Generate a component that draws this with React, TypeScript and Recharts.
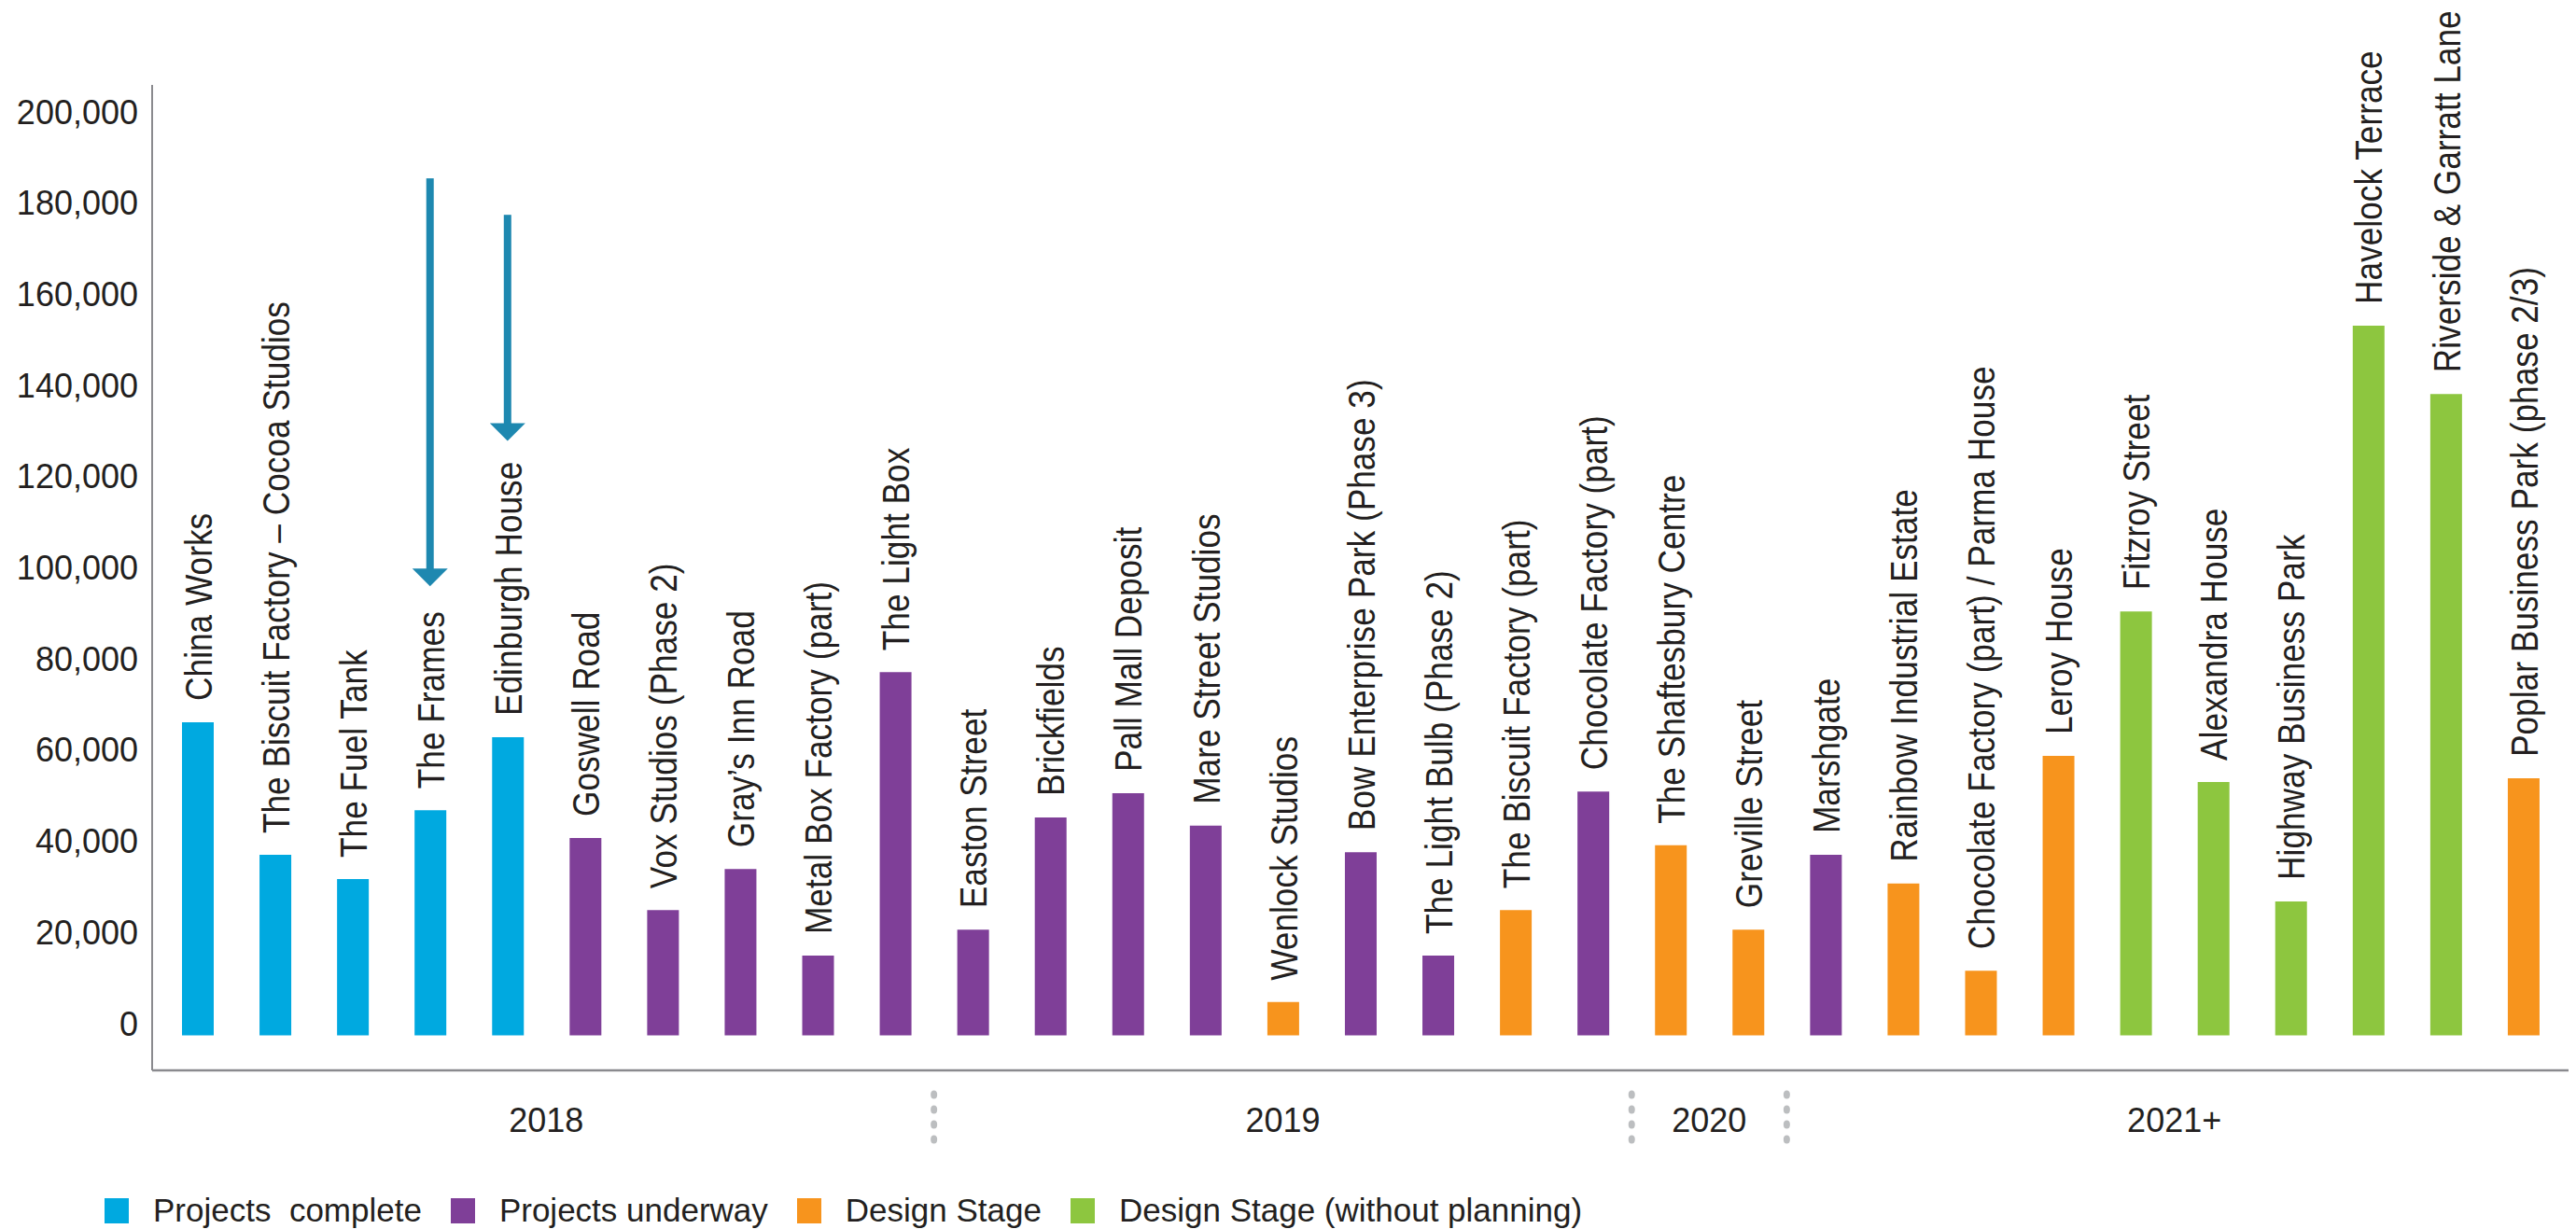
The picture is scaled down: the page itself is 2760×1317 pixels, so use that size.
import React from 'react';
import { BarChart, Bar, XAxis, YAxis, Cell, LabelList, Legend, ReferenceLine } from 'recharts';

const projects = [
  'China Works',
  'The Biscuit Factory – Cocoa Studios',
  'The Fuel Tank',
  'The Frames',
  'Edinburgh House',
  'Goswell Road',
  'Vox Studios (Phase 2)',
  'Gray’s Inn Road',
  'Metal Box Factory (part)',
  'The Light Box',
  'Easton Street',
  'Brickfields',
  'Pall Mall Deposit',
  'Mare Street Studios',
  'Wenlock Studios',
  'Bow Enterprise Park (Phase 3)',
  'The Light Bulb (Phase 2)',
  'The Biscuit Factory (part)',
  'Chocolate Factory (part)',
  'The Shaftesbury Centre',
  'Greville Street',
  'Marshgate',
  'Rainbow Industrial Estate',
  'Chocolate Factory (part) / Parma House',
  'Leroy House',
  'Fitzroy Street',
  'Alexandra House',
  'Highway Business Park',
  'Havelock Terrace',
  'Riverside & Garratt Lane',
  'Poplar Business Park (phase 2/3)',
];

const areas = [
  68700, 39600, 34300, 49400, 65400, 43300, 27500, 36500, 17500, 79700,
  23200, 47800, 53100, 46000, 7300, 40200, 17500, 27500, 53500, 41700,
  23200, 39600, 33300, 14200, 61300, 93000, 55600, 29400, 155700, 140700,
  56400,
];

// 0 = complete, 1 = underway, 2 = design stage, 3 = design stage (without planning)
const stages = [
  0, 0, 0, 0, 0, 1, 1, 1, 1, 1,
  1, 1, 1, 1, 2, 1, 1, 2, 1, 2,
  2, 1, 2, 2, 2, 3, 3, 3, 3, 3,
  2,
];

const stageNames = ['Projects  complete', 'Projects underway', 'Design Stage', 'Design Stage (without planning)'];
const stageColors = ['#00A9E0', '#7F3F98', '#F7941D', '#8DC63F'];

const years = ['2018', '2019', '2020', '2021+'];
const yearCounts = [10, 9, 2, 10];

const yTicks = [0, 20000, 40000, 60000, 80000, 100000, 120000, 140000, 160000, 180000, 200000];

const arrowProjects = ['The Frames', 'Edinburgh House'];
const arrowFrom = [188000, 180000];
const arrowTo = [98500, 130400];

const data = projects.map((name, i) => ({ name, area: areas[i], stage: stages[i] }));

const FONT = '"Liberation Sans", Arial, Helvetica, sans-serif';
const TEXT = '#231F20';
const AXIS = '#8A8A8E';
const ARROW = '#1E88B0';

const tickXs: number[] = [];

function YearTick(props: any) {
  const { x, y, index } = props;
  tickXs[index] = x;
  let acc = 0;
  let g = -1;
  for (let k = 0; k < yearCounts.length; k++) {
    acc += yearCounts[k];
    if (index === acc - 1) { g = k; break; }
  }
  if (g < 0) return <g />;
  const step = index > 0 ? (x - tickXs[0]) / index : 0;
  const cx = x - ((yearCounts[g] - 1) / 2) * step;
  const sepX = x + step / 2;
  const dots = [0, 1, 2, 3];
  return (
    <g>
      <text x={cx} y={y + 66} textAnchor="middle" fontSize={36} fontFamily={FONT} fill={TEXT}>
        {years[g]}
      </text>
      {g < years.length - 1 &&
        dots.map((d) => (
          <ellipse key={d} cx={sepX} cy={y + 26 + d * 16} rx={3.5} ry={4.5} fill="#BCBEC0" />
        ))}
    </g>
  );
}

function ValueTick(props: any) {
  const { x, y, payload } = props;
  return (
    <text x={x} y={y} textAnchor="end" fontSize={36} fontFamily={FONT} fill={TEXT}>
      {Number(payload.value).toLocaleString('en-US')}
    </text>
  );
}

function NameLabel(props: any) {
  const { x, y, width, value } = props;
  const fs = 41;
  const cx = Number(x) + Number(width) / 2;
  const ox = cx + (fs * 0.716) / 2;
  const oy = Number(y) - 23;
  return (
    <text
      transform={`translate(${ox},${oy}) rotate(-90) scale(0.86,1)`}
      x={0}
      y={0}
      fontSize={fs}
      fontFamily={FONT}
      fill={TEXT}
    >
      {value}
    </text>
  );
}

function ArrowShape(props: any) {
  const { x1, y1, x2, y2 } = props;
  const head = 19;
  const hw = 19;
  const sw = 8;
  return (
    <g>
      <rect x={x1 - sw / 2} y={y1} width={sw} height={y2 - y1 - head + 1} fill={ARROW} />
      <polygon points={`${x2 - hw},${y2 - head} ${x2 + hw},${y2 - head} ${x2},${y2}`} fill={ARROW} />
    </g>
  );
}

function LegendContent() {
  return (
    <div style={{ display: 'flex', alignItems: 'center', height: 40, fontFamily: FONT, fontSize: 35, color: TEXT }}>
      {stageNames.map((n, i) => (
        <div key={n} style={{ display: 'flex', alignItems: 'center', marginRight: 31 }}>
          <div style={{ width: 26, height: 27, background: stageColors[i], marginRight: 26 }} />
          <span style={{ whiteSpace: 'pre', lineHeight: '36px' }}>{n}</span>
        </div>
      ))}
    </div>
  );
}

export default function App() {
  return (
    <div>
      <style>{'body{margin:0;overflow:hidden;background:#fff}'}</style>
      <BarChart
        width={2760}
        height={1317}
        data={data}
        margin={{ top: 91, right: 8, bottom: 0, left: 0 }}
        barSize={34}
      >
        <XAxis
          dataKey="name"
          type="category"
          interval={0}
          tickLine={false}
          tickSize={0}
          tickMargin={0}
          height={130}
          padding={{ left: 7, right: 7 }}
          axisLine={{ stroke: AXIS, strokeWidth: 2.5 }}
          tick={YearTick}
        />
        <YAxis
          type="number"
          width={163}
          domain={[-7676, 208496]}
          allowDataOverflow
          ticks={yTicks}
          interval={0}
          tickLine={false}
          tickSize={0}
          tickMargin={15}
          axisLine={{ stroke: AXIS, strokeWidth: 2 }}
          tick={ValueTick}
        />
        <Legend
          verticalAlign="bottom"
          content={LegendContent}
          wrapperStyle={{ left: 112, top: 1277, height: 40, width: 'auto' }}
        />
        <Bar dataKey="area" isAnimationActive={false}>
          {data.map((d, i) => (
            <Cell key={i} fill={stageColors[d.stage]} />
          ))}
          <LabelList dataKey="name" content={NameLabel} />
        </Bar>
        {arrowProjects.map((p, i) => (
          <ReferenceLine
            key={p}
            segment={[{ x: p, y: arrowFrom[i] }, { x: p, y: arrowTo[i] }]}
            shape={ArrowShape}
            ifOverflow="visible"
          />
        ))}
      </BarChart>
    </div>
  );
}
